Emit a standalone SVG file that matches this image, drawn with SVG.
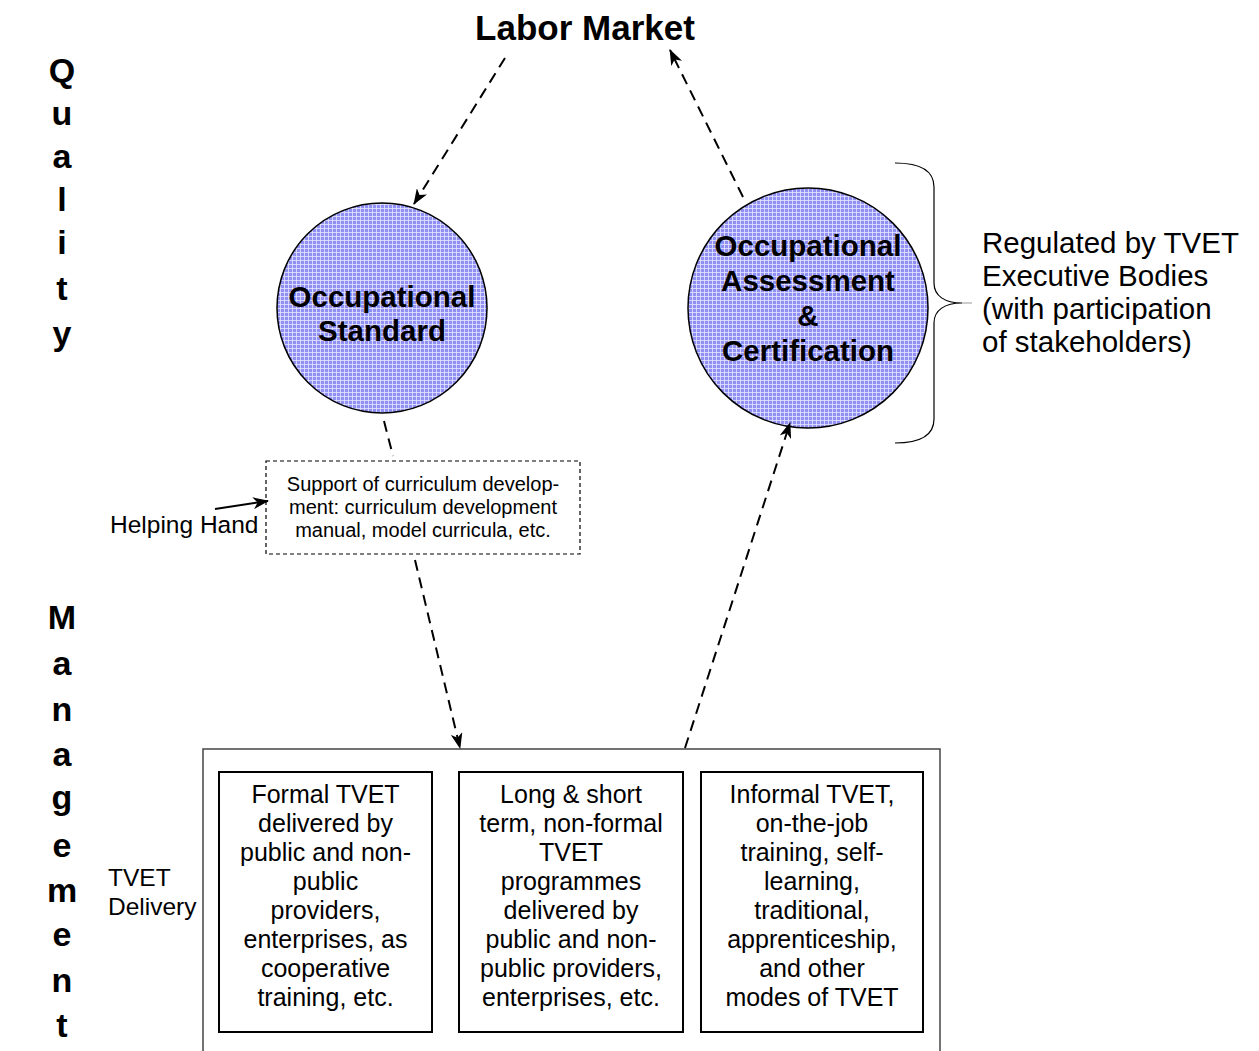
<svg xmlns="http://www.w3.org/2000/svg" width="1259" height="1051" viewBox="0 0 1259 1051">
<defs>
<pattern id="grid" width="4" height="4" patternUnits="userSpaceOnUse">
<rect width="4" height="4" fill="#8f8ff4"/>
<rect x="0" y="0" width="4" height="1" fill="#e6e6ff" opacity="0.8"/>
<rect x="0" y="0" width="1" height="4" fill="#e6e6ff" opacity="0.8"/>
</pattern>
<marker id="ah2" viewBox="0 0 16 12" refX="15" refY="6" markerWidth="16" markerHeight="12" markerUnits="userSpaceOnUse" orient="auto">
<path d="M0,0 L16,6 L0,12 L4.5,6 Z" fill="#000"/>
</marker>
</defs>
<style>
text{font-family:"Liberation Sans",Arial,sans-serif;fill:#000}
.big{font-size:35px;font-weight:bold}
.vl{font-size:34px;font-weight:bold;text-anchor:middle}
.ct{font-size:29.5px;font-weight:bold;text-anchor:middle}
.bx{font-size:25px;text-anchor:middle}
.sm{font-size:20px;text-anchor:middle}
.lbl{font-size:25px}
.reg{font-size:29.5px}
.circ{fill:url(#grid);stroke:#000;stroke-width:1.5}
.box{fill:#fff;stroke:#000;stroke-width:2}
.dash{fill:none;stroke:#000;stroke-width:2;stroke-dasharray:11 7}
</style>
<rect width="1259" height="1051" fill="#fff"/>

<g id="labor-market"><text class="big" x="585" y="40" text-anchor="middle">Labor Market</text></g>

<g id="quality-label">
<text class="vl" x="62" y="82">Q</text>
<text class="vl" x="62" y="125">u</text>
<text class="vl" x="62" y="168">a</text>
<text class="vl" x="62" y="211">l</text>
<text class="vl" x="62" y="254">i</text>
<text class="vl" x="62" y="300">t</text>
<text class="vl" x="62" y="345">y</text>
</g>
<g id="management-label">
<text class="vl" x="62" y="629">M</text>
<text class="vl" x="62" y="675">a</text>
<text class="vl" x="62" y="721">n</text>
<text class="vl" x="62" y="766">a</text>
<text class="vl" x="62" y="809">g</text>
<text class="vl" x="62" y="857">e</text>
<text class="vl" x="62" y="902">m</text>
<text class="vl" x="62" y="946">e</text>
<text class="vl" x="62" y="992">n</text>
<text class="vl" x="62" y="1037">t</text>
</g>

<g id="occupational-standard">
<circle class="circ" cx="382" cy="308" r="105"/>
<text class="ct" x="382" y="307">Occupational</text>
<text class="ct" x="382" y="341">Standard</text>
</g>

<g id="assessment-certification">
<circle class="circ" cx="808" cy="308" r="120"/>
<text class="ct" x="808" y="256">Occupational</text>
<text class="ct" x="808" y="291">Assessment</text>
<text class="ct" x="808" y="326">&amp;</text>
<text class="ct" x="808" y="361">Certification</text>
</g>

<g id="regulated">
<path d="M895,163 C921,163 934,171 934,187 L934,283 C934,296 945,303 962,303 C945,303 934,310 934,323 L934,419 C934,435 921,443 895,443" fill="none" stroke="#000" stroke-width="1.2"/>
<line x1="962" y1="303" x2="972" y2="303" stroke="#999" stroke-width="1"/>
<text class="reg" x="982" y="253">Regulated by TVET</text>
<text class="reg" x="982" y="286">Executive Bodies</text>
<text class="reg" x="982" y="319">(with participation</text>
<text class="reg" x="982" y="352">of stakeholders)</text>
</g>

<g id="curriculum-support">
<rect x="266" y="461" width="314" height="93" fill="#fff" stroke="#000" stroke-width="1.2" stroke-dasharray="4 3"/>
<text class="sm" x="423" y="491">Support of curriculum develop-</text>
<text class="sm" x="423" y="514">ment: curriculum development</text>
<text class="sm" x="423" y="537">manual, model curricula, etc.</text>
</g>

<g id="helping-hand">
<text class="lbl" x="110" y="533" style="font-size:24.5px">Helping Hand</text>
</g>

<g id="tvet-delivery">
<rect x="203" y="749" width="737" height="320" fill="none" stroke="#444" stroke-width="1.5"/>
<text class="lbl" x="108" y="886" style="font-size:24.5px">TVET</text>
<text class="lbl" x="108" y="915" style="font-size:24.5px">Delivery</text>
</g>

<g id="formal-tvet">
<rect class="box" x="219" y="772" width="213" height="260"/>
<text class="bx" x="325.5" y="803">Formal TVET</text>
<text class="bx" x="325.5" y="832">delivered by</text>
<text class="bx" x="325.5" y="861">public and non-</text>
<text class="bx" x="325.5" y="890">public</text>
<text class="bx" x="325.5" y="919">providers,</text>
<text class="bx" x="325.5" y="948">enterprises, as</text>
<text class="bx" x="325.5" y="977">cooperative</text>
<text class="bx" x="325.5" y="1006">training, etc.</text>
</g>

<g id="nonformal-tvet">
<rect class="box" x="459" y="772" width="224" height="260"/>
<text class="bx" x="571" y="803">Long &amp; short</text>
<text class="bx" x="571" y="832">term, non-formal</text>
<text class="bx" x="571" y="861">TVET</text>
<text class="bx" x="571" y="890">programmes</text>
<text class="bx" x="571" y="919">delivered by</text>
<text class="bx" x="571" y="948">public and non-</text>
<text class="bx" x="571" y="977">public providers,</text>
<text class="bx" x="571" y="1006">enterprises, etc.</text>
</g>

<g id="informal-tvet">
<rect class="box" x="701" y="772" width="222" height="260"/>
<text class="bx" x="812" y="803">Informal TVET,</text>
<text class="bx" x="812" y="832">on-the-job</text>
<text class="bx" x="812" y="861">training, self-</text>
<text class="bx" x="812" y="890">learning,</text>
<text class="bx" x="812" y="919">traditional,</text>
<text class="bx" x="812" y="948">apprenticeship,</text>
<text class="bx" x="812" y="977">and other</text>
<text class="bx" x="812" y="1006">modes of TVET</text>
</g>

<g id="connectors">
<line class="dash" x1="505" y1="58" x2="414" y2="204" marker-end="url(#ah2)"/>
<line class="dash" x1="743" y1="197" x2="670" y2="50" marker-end="url(#ah2)"/>
<line class="dash" x1="384" y1="421" x2="393" y2="456"/>
<line class="dash" x1="415" y1="560" x2="460" y2="748" marker-end="url(#ah2)"/>
<line class="dash" x1="685" y1="748" x2="790" y2="423" marker-end="url(#ah2)"/>
<line x1="215" y1="509" x2="268" y2="501" stroke="#000" stroke-width="2" marker-end="url(#ah2)"/>
</g>
</svg>
